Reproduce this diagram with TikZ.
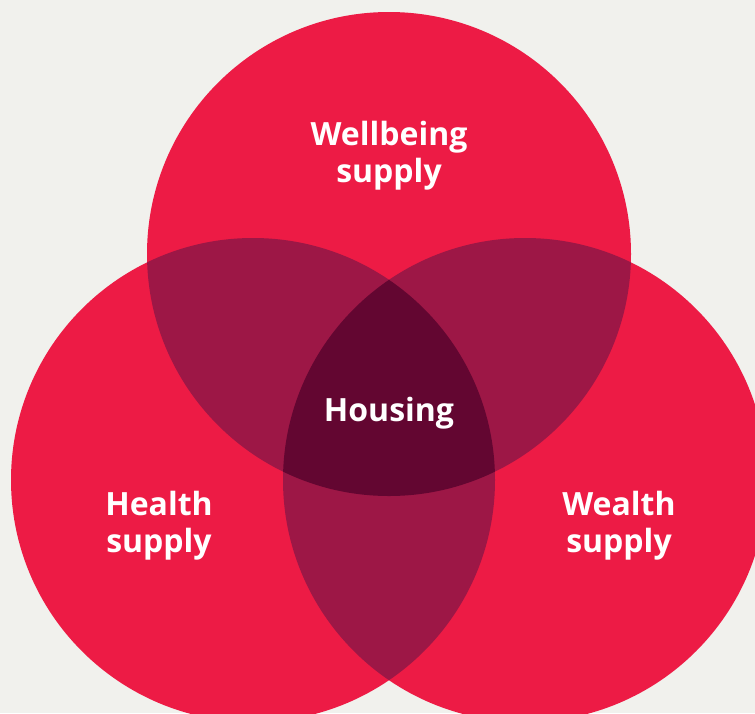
\documentclass[tikz,border=0pt]{standalone}
\usepackage{fontspec}
\setmainfont{Open Sans}
\usetikzlibrary{positioning}
\definecolor{paper}{HTML}{F1F1ED}
\definecolor{ringred}{HTML}{ED1B45}
\definecolor{pairred}{HTML}{9D1746}
\definecolor{corered}{HTML}{630631}

\begin{document}
\begin{tikzpicture}[x=1pt, y=-1pt,
    label/.style={text=white, align=center, font=\bfseries\fontsize{32}{37}\selectfont}]
  \fill[paper] (0,0) rectangle (755,713);
  \useasboundingbox (0,0) rectangle (755,713);
  \clip (0,0) rectangle (755,713);
  % the three rings
  \coordinate (top) at (389,254);
  \coordinate (left) at (253,480);
  \coordinate (right) at (525,480);
  \foreach \c in {top,left,right}
    \fill[ringred] (\c) circle (242);
  % pairwise overlaps
  \begin{scope}
    \clip (top) circle (242);
    \fill[pairred] (left) circle (242);
    \fill[pairred] (right) circle (242);
  \end{scope}
  \begin{scope}
    \clip (left) circle (242);
    \fill[pairred] (right) circle (242);
  \end{scope}
  % centre
  \begin{scope}
    \clip (top) circle (242);
    \clip (left) circle (242);
    \fill[corered] (right) circle (242);
  \end{scope}
  \node[label] (wellbeing) at (389,156) {Wellbeing\\supply};
  \node[label] (housing) at (389,413) {Housing};
  \node[label] (health) at (159,526) {Health\\supply};
  \node[label] (wealth) at (619,526) {Wealth\\supply};
\end{tikzpicture}
\end{document}
